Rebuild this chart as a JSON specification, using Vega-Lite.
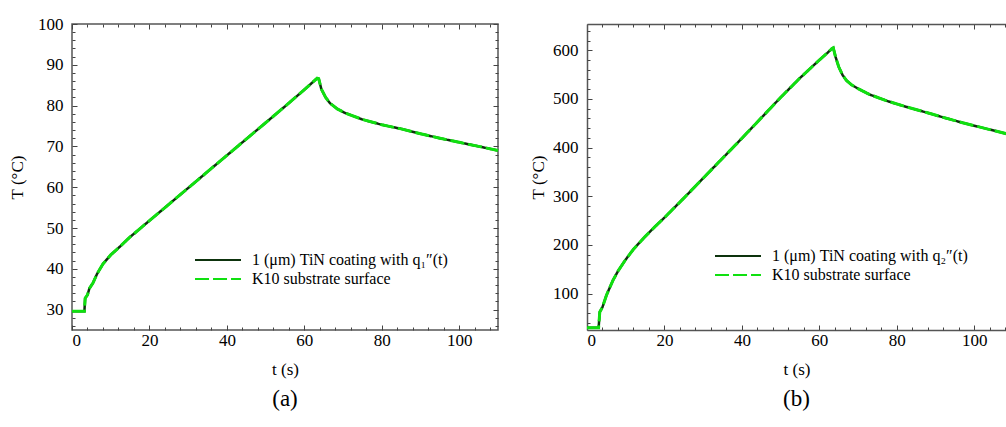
{
  "$schema": "https://vega.github.io/schema/vega-lite/v6.json",
  "background": "white",
  "padding": {"left": 7, "top": 14, "right": 0, "bottom": 0},
  "datasets": {
    "a": [
      {"t": 0, "T": 29.6}, {"t": 3.2, "T": 29.6}, {"t": 3.4, "T": 32.8}, {"t": 4.0, "T": 33.6},
      {"t": 4.5, "T": 35.2}, {"t": 5.4, "T": 36.5}, {"t": 6.5, "T": 38.8}, {"t": 8, "T": 41.2},
      {"t": 10, "T": 43.4}, {"t": 12, "T": 45.1}, {"t": 15, "T": 47.8}, {"t": 17.5, "T": 49.8},
      {"t": 20, "T": 51.8}, {"t": 25, "T": 55.8}, {"t": 30, "T": 59.8}, {"t": 35, "T": 63.8},
      {"t": 40, "T": 67.8}, {"t": 45, "T": 71.8}, {"t": 50, "T": 75.8}, {"t": 55, "T": 79.8},
      {"t": 60, "T": 83.9}, {"t": 62, "T": 85.6}, {"t": 63.3, "T": 86.7}, {"t": 63.7, "T": 86.6},
      {"t": 64.4, "T": 84.0}, {"t": 65.5, "T": 82.0}, {"t": 66.6, "T": 80.6}, {"t": 68.5, "T": 79.2},
      {"t": 70.5, "T": 78.2}, {"t": 75, "T": 76.6}, {"t": 80, "T": 75.3}, {"t": 85, "T": 74.3},
      {"t": 90, "T": 73.1}, {"t": 95, "T": 72.0}, {"t": 100, "T": 71.0}, {"t": 105, "T": 70.0},
      {"t": 110, "T": 69.0}
    ],
    "b": [
      {"t": 0, "T": 29.5}, {"t": 3.0, "T": 29.5}, {"t": 3.3, "T": 62}, {"t": 4.0, "T": 72},
      {"t": 5.0, "T": 96}, {"t": 6.7, "T": 127}, {"t": 8, "T": 146}, {"t": 10, "T": 170},
      {"t": 12, "T": 191}, {"t": 15, "T": 217}, {"t": 17.5, "T": 237}, {"t": 20, "T": 256},
      {"t": 25, "T": 296}, {"t": 30, "T": 337}, {"t": 35, "T": 378}, {"t": 40, "T": 419},
      {"t": 45, "T": 461}, {"t": 50, "T": 503}, {"t": 55, "T": 543}, {"t": 60, "T": 580},
      {"t": 62, "T": 594}, {"t": 63.2, "T": 603}, {"t": 63.6, "T": 605}, {"t": 64.2, "T": 586},
      {"t": 65, "T": 566}, {"t": 66, "T": 549}, {"t": 67, "T": 538}, {"t": 68.3, "T": 529},
      {"t": 70, "T": 521}, {"t": 73, "T": 509}, {"t": 77.8, "T": 495}, {"t": 82.5, "T": 483.5},
      {"t": 87.7, "T": 472}, {"t": 92, "T": 462}, {"t": 97, "T": 451}, {"t": 102, "T": 441},
      {"t": 108.5, "T": 428}
    ]
  },
  "config": {
    "font": "Liberation Serif",
    "view": {"stroke": "#555555", "strokeWidth": 1.5},
    "axis": {
      "grid": false,
      "domain": false,
      "labelFont": "Liberation Serif",
      "labelFontSize": 17,
      "labelColor": "#000000",
      "titleFont": "Liberation Serif",
      "titleFontSize": 17,
      "titleFontWeight": "normal",
      "titleColor": "#000000",
      "tickColor": "#444444",
      "tickWidth": 1,
      "domainColor": "#555555",
      "domainWidth": 1.5
    },
    "legend": {
      "labelFont": "Liberation Serif",
      "labelFontSize": 16,
      "labelColor": "#000000",
      "labelLimit": 0,
      "symbolType": "M-4,0H4",
      "symbolSize": 132,
      "symbolStrokeWidth": 2,
      "labelOffset": 26,
      "rowPadding": 3,
      "padding": 0
    },
    "title": {"font": "Liberation Serif", "fontSize": 23, "fontWeight": "normal", "color": "#000000"}
  },
  "spacing": 89,
  "bounds": "flush",
  "resolve": {
    "scale": {"color": "independent", "strokeDash": "independent"},
    "legend": {"color": "independent", "strokeDash": "independent"}
  },
  "hconcat": [
    {
      "width": 426,
      "height": 306,
      "title": {"text": "(a)", "orient": "bottom", "offset": 11},
      "data": {"name": "a"},
      "resolve": {"axis": {"x": "independent", "y": "independent"}},
      "layer": [
        {
          "transform": [{"calculate": "'1 (μm) TiN coating with q₁″(t)'", "as": "series"}],
          "mark": {"type": "line", "strokeWidth": 2.5},
          "encoding": {
            "x": {"field": "t", "type": "quantitative", "scale": {"domain": [0, 110], "nice": false, "zero": false},
              "axis": {"orient": "bottom", "values": [0, 20, 40, 60, 80, 100], "tickSize": -5, "labelPadding": 7, "title": "t (s)", "titlePadding": 13}},
            "y": {"field": "T", "type": "quantitative", "scale": {"domain": [25, 100], "nice": false, "zero": false},
              "axis": {"orient": "left", "values": [30, 40, 50, 60, 70, 80, 90, 100], "tickSize": -5, "labelPadding": 14, "title": "T (°C)", "titlePadding": 11}},
            "color": {"field": "series", "type": "nominal", "title": null,
              "scale": {"domain": ["1 (μm) TiN coating with q₁″(t)", "K10 substrate surface"], "range": ["#0d330d", "#10e010"]},
              "legend": {"orient": "none", "legendX": 138, "legendY": 228}},
            "strokeDash": {"field": "series", "type": "nominal", "title": null,
              "scale": {"domain": ["1 (μm) TiN coating with q₁″(t)", "K10 substrate surface"], "range": [[1, 0], [14, 4]]},
              "legend": {"orient": "none", "legendX": 138, "legendY": 228}}
          }
        },
        {
          "transform": [{"calculate": "'K10 substrate surface'", "as": "series"}],
          "mark": {"type": "line", "strokeWidth": 3},
          "encoding": {
            "x": {"field": "t", "type": "quantitative", "axis": {"orient": "top", "values": [0, 20, 40, 60, 80, 100], "tickSize": -5, "labels": false, "title": null}},
            "y": {"field": "T", "type": "quantitative", "axis": {"orient": "right", "values": [30, 40, 50, 60, 70, 80, 90, 100], "tickSize": -5, "labels": false, "title": null}},
            "color": {"field": "series", "type": "nominal"},
            "strokeDash": {"field": "series", "type": "nominal"}
          }
        },
        {
          "mark": {"type": "point", "opacity": 0},
          "encoding": {
            "x": {"field": "t", "type": "quantitative", "axis": {"orient": "bottom", "values": [4, 8, 12, 16, 24, 28, 32, 36, 44, 48, 52, 56, 64, 68, 72, 76, 84, 88, 92, 96, 104, 108], "tickSize": -3, "labels": false, "title": null}},
            "y": {"field": "T", "type": "quantitative", "axis": {"orient": "left", "values": [26, 28, 32, 34, 36, 38, 42, 44, 46, 48, 52, 54, 56, 58, 62, 64, 66, 68, 72, 74, 76, 78, 82, 84, 86, 88, 92, 94, 96, 98], "tickSize": -3, "labels": false, "title": null}}
          }
        },
        {
          "mark": {"type": "point", "opacity": 0},
          "encoding": {
            "x": {"field": "t", "type": "quantitative", "axis": {"orient": "top", "values": [4, 8, 12, 16, 24, 28, 32, 36, 44, 48, 52, 56, 64, 68, 72, 76, 84, 88, 92, 96, 104, 108], "tickSize": -3, "labels": false, "title": null}},
            "y": {"field": "T", "type": "quantitative", "axis": {"orient": "right", "values": [26, 28, 32, 34, 36, 38, 42, 44, 46, 48, 52, 54, 56, 58, 62, 64, 66, 68, 72, 74, 76, 78, 82, 84, 86, 88, 92, 94, 96, 98], "tickSize": -3, "labels": false, "title": null}}
          }
        }
      ]
    },
    {
      "width": 419,
      "height": 306,
      "view": {"stroke": null},
      "title": {"text": "(b)", "orient": "bottom", "offset": 11},
      "data": {"name": "b"},
      "resolve": {"axis": {"x": "independent", "y": "independent"}},
      "layer": [
        {
          "transform": [{"calculate": "'1 (μm) TiN coating with q₂″(t)'", "as": "series"}],
          "mark": {"type": "line", "strokeWidth": 2.5, "clip": true},
          "encoding": {
            "x": {"field": "t", "type": "quantitative", "scale": {"domain": [0, 108.2], "nice": false, "zero": false},
              "axis": {"orient": "bottom", "domain": true, "values": [0, 20, 40, 60, 80, 100], "tickSize": -5, "labelPadding": 7, "title": "t (s)", "titlePadding": 13}},
            "y": {"field": "T", "type": "quantitative", "scale": {"domain": [25, 654], "nice": false, "zero": false},
              "axis": {"orient": "left", "domain": true, "values": [100, 200, 300, 400, 500, 600], "tickSize": -5, "labelPadding": 14, "title": "T (°C)", "titlePadding": 5}},
            "color": {"field": "series", "type": "nominal", "title": null,
              "scale": {"domain": ["1 (μm) TiN coating with q₂″(t)", "K10 substrate surface"], "range": ["#0d330d", "#10e010"]},
              "legend": {"orient": "none", "legendX": 143, "legendY": 224}},
            "strokeDash": {"field": "series", "type": "nominal", "title": null,
              "scale": {"domain": ["1 (μm) TiN coating with q₂″(t)", "K10 substrate surface"], "range": [[1, 0], [14, 4]]},
              "legend": {"orient": "none", "legendX": 143, "legendY": 224}}
          }
        },
        {
          "transform": [{"calculate": "'K10 substrate surface'", "as": "series"}],
          "mark": {"type": "line", "strokeWidth": 3, "clip": true},
          "encoding": {
            "x": {"field": "t", "type": "quantitative", "axis": {"orient": "top", "domain": true, "values": [0, 20, 40, 60, 80, 100], "tickSize": -5, "labels": false, "title": null}},
            "y": {"field": "T", "type": "quantitative", "axis": null},
            "color": {"field": "series", "type": "nominal"},
            "strokeDash": {"field": "series", "type": "nominal"}
          }
        },
        {
          "mark": {"type": "point", "opacity": 0, "clip": true},
          "encoding": {
            "x": {"field": "t", "type": "quantitative", "axis": {"orient": "bottom", "values": [4, 8, 12, 16, 24, 28, 32, 36, 44, 48, 52, 56, 64, 68, 72, 76, 84, 88, 92, 96, 104, 108], "tickSize": -3, "labels": false, "title": null}},
            "y": {"field": "T", "type": "quantitative", "axis": {"orient": "left", "values": [40, 60, 80, 120, 140, 160, 180, 220, 240, 260, 280, 320, 340, 360, 380, 420, 440, 460, 480, 520, 540, 560, 580, 620, 640], "tickSize": -3, "labels": false, "title": null}}
          }
        },
        {
          "mark": {"type": "point", "opacity": 0, "clip": true},
          "encoding": {
            "x": {"field": "t", "type": "quantitative", "axis": {"orient": "top", "values": [4, 8, 12, 16, 24, 28, 32, 36, 44, 48, 52, 56, 64, 68, 72, 76, 84, 88, 92, 96, 104, 108], "tickSize": -3, "labels": false, "title": null}},
            "y": {"field": "T", "type": "quantitative", "axis": null}
          }
        }
      ]
    }
  ]
}
